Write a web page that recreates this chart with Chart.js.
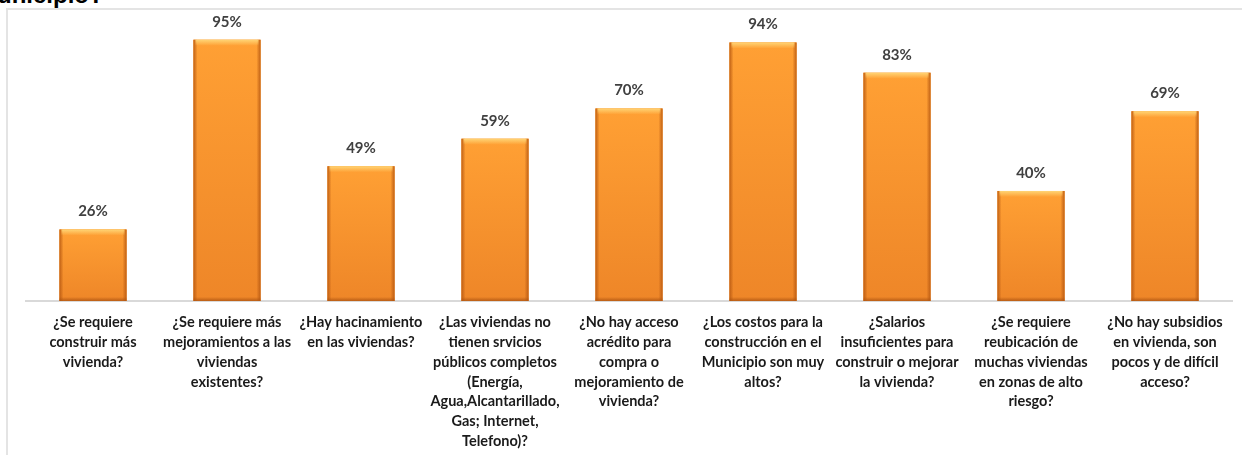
<!DOCTYPE html>
<html>
<head>
<meta charset="utf-8">
<script src="https://cdn.jsdelivr.net/npm/chart.js@4.4.1/dist/chart.umd.min.js"></script>
<style>
  html, body { margin: 0; padding: 0; background: #fff; }
  #wrap { position: relative; width: 1242px; height: 455px; overflow: hidden; }
  #frame { position: absolute; left: 6px; top: 8px; width: 1250px; height: 460px;
           border-top: 2px solid #e4e4e4; border-left: 2px solid #e4e4e4; }
  #title { position: absolute; left: -3px; top: -17px; font: bold 24px "Liberation Sans", Arial, sans-serif;
           color: #000; line-height: 24px; white-space: nowrap; }
  #chartBox { position: absolute; left: 0; top: 0; width: 1242px; height: 455px; }
</style>
</head>
<body>
<div id="wrap">
  <div id="frame"></div>
  <div id="title">unicipio?</div>
  <div id="chartBox"><canvas id="surveyChart"></canvas></div>
</div>
<script>
// Categories (questions) - one array per label, lines as drawn
const questions = [
    ['¿Se requiere', 'construir más', 'vivienda?'],
    ['¿Se requiere más', 'mejoramientos a las', 'viviendas', 'existentes?'],
    ['¿Hay hacinamiento', 'en las viviendas?'],
    ['¿Las viviendas no', 'tienen srvicios', 'públicos completos', '(Energía,', 'Agua,Alcantarillado,', 'Gas; Internet,', 'Telefono)?'],
    ['¿No hay acceso', 'acrédito para', 'compra o', 'mejoramiento de', 'vivienda?'],
    ['¿Los costos para la', 'construcción en el', 'Municipio son muy', 'altos?'],
    ['¿Salarios', 'insuficientes para', 'construir o mejorar', 'la vivienda?'],
    ['¿Se requiere', 'reubicación de', 'muchas viviendas', 'en zonas de alto', 'riesgo?'],
    ['¿No hay subsidios', 'en vivienda, son', 'pocos y de difícil', 'acceso?']
];

// Percentage answering yes
const percentages = [26, 95, 49, 59, 70, 94, 83, 40, 69];

const ctx = document.getElementById('surveyChart').getContext('2d');

// Bevel look for the bars (drawn over each bar using the element's own geometry)
const bevelPlugin = {
    id: 'bevel',
    afterDatasetsDraw(chart) {
        const c = chart.ctx;
        chart.getDatasetMeta(0).data.forEach((bar) => {
            const left = bar.x - bar.width / 2;
            const w = bar.width;
            const top = bar.y;
            const h = bar.base - bar.y;
            c.save();
            // main vertical gradient
            let g = c.createLinearGradient(0, top, 0, top + h);
            g.addColorStop(0, '#ffa034');
            g.addColorStop(1, '#ee8628');
            c.fillStyle = g;
            c.fillRect(left, top, w, h);
            // side edges
            g = c.createLinearGradient(left, 0, left + w, 0);
            g.addColorStop(0, 'rgba(185,90,18,0.9)');
            g.addColorStop(0.06, 'rgba(185,90,18,0)');
            g.addColorStop(0.94, 'rgba(185,90,18,0)');
            g.addColorStop(1, 'rgba(185,90,18,0.9)');
            c.fillStyle = g;
            c.fillRect(left, top, w, h);
            // top highlight
            g = c.createLinearGradient(0, top, 0, top + 6);
            g.addColorStop(0, 'rgba(255,215,120,0.95)');
            g.addColorStop(1, 'rgba(255,215,120,0)');
            c.fillStyle = g;
            c.fillRect(left + 2, top, w - 4, 6);
            // bottom shade
            g = c.createLinearGradient(0, top + h - 4, 0, top + h);
            g.addColorStop(0, 'rgba(175,85,18,0)');
            g.addColorStop(1, 'rgba(175,85,18,0.85)');
            c.fillStyle = g;
            c.fillRect(left, top + h - 4, w, 4);
            c.restore();
        });
    }
};

// Percentage labels above bars
const valueLabels = {
    id: 'valueLabels',
    afterDatasetsDraw(chart) {
        const c = chart.ctx;
        c.save();
        c.font = 'bold 15px Lato, "Open Sans", sans-serif';
        c.fillStyle = '#404040';
        c.textAlign = 'center';
        c.textBaseline = 'middle';
        chart.getDatasetMeta(0).data.forEach((bar, i) => {
            c.fillText(percentages[i] + '%', bar.x, bar.y - 18);
        });
        c.restore();
    }
};

new Chart(ctx, {
    type: 'bar',
    data: {
        labels: questions,
        datasets: [{
            data: percentages,
            backgroundColor: '#f7922e',
            borderWidth: 0,
            categoryPercentage: 1,
            barPercentage: 0.5
        }]
    },
    options: {
        responsive: true,
        maintainAspectRatio: false,
        animation: false,
        layout: {
            padding: { left: 26, right: 10, top: 26, bottom: 0 }
        },
        plugins: {
            legend: { display: false },
            tooltip: { enabled: false }
        },
        scales: {
            y: {
                display: false,
                min: 0,
                max: 100
            },
            x: {
                grid: { display: false },
                border: { display: true, color: '#d9d9d9', width: 2 },
                ticks: {
                    color: '#1a1a1a',
                    font: { family: 'Lato, "Open Sans", sans-serif', weight: 'bold', size: 14.5, lineHeight: 1.36 },
                    padding: 4,
                    maxRotation: 0,
                    autoSkip: false
                }
            }
        }
    },
    plugins: [bevelPlugin, valueLabels]
});
</script>
</body>
</html>
